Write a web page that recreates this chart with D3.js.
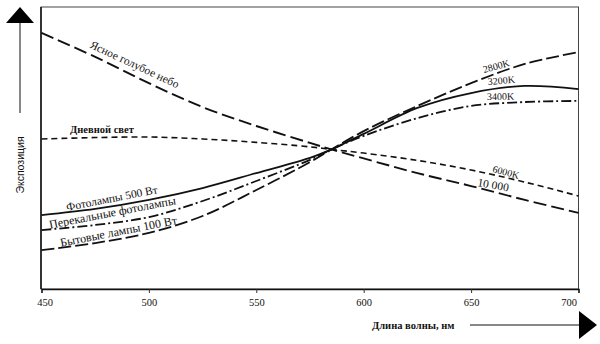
<!DOCTYPE html>
<html><head><meta charset="utf-8">
<script src="https://cdn.jsdelivr.net/npm/d3@7"></script>
<style>
html,body{margin:0;padding:0;background:#fff;}
svg{display:block;}
text{font-family:"Liberation Serif","DejaVu Serif",serif;fill:#111;}
</style></head>
<body>
<svg id="chart" width="600" height="344"></svg>
<script>
// Wavelengths (nm)
const wavelengths = [450, 475, 500, 525, 550, 575, 585, 600, 625, 650, 675, 700];
// Relative exposure values (arbitrary units 0..100)
const clearSky     = [90.8, 82.3, 73.0, 64.5, 57.8, 51.8, 49.5, 46.3, 41.1, 36.5, 31.6, 27.0];
const daylight     = [53.2, 53.7, 53.9, 53.2, 52.0, 50.4, 49.5, 48.2, 45.6, 42.2, 37.9, 33.0];
const photo500     = [26.2, 28.4, 31.6, 35.8, 41.1, 46.5, 49.5, 55.0, 64.2, 69.5, 72.0, 70.9];
const overrunPhoto = [20.9, 22.7, 25.5, 31.2, 38.3, 45.8, 49.5, 54.3, 60.6, 64.9, 66.3, 66.7];
const household100 = [13.8, 16.3, 19.9, 25.9, 35.1, 45.0, 49.5, 56.0, 64.9, 73.0, 79.8, 84.0];
const xTicks = [450, 500, 550, 600, 650, 700];

const svg = d3.select("#chart");
const x = d3.scaleLinear().domain([450, 700]).range([41.5, 578.5]);
const y = d3.scaleLinear().domain([0, 100]).range([289, 7]);

// frame
svg.append("rect").attr("x", 41).attr("y", 7).attr("width", 537.5).attr("height", 282)
  .attr("fill", "none").attr("stroke", "#444").attr("stroke-width", 1);
svg.append("line").attr("x1", 41).attr("x2", 41).attr("y1", 7).attr("y2", 289)
  .attr("stroke", "#111").attr("stroke-width", 1.5);

// x axis
const xAxis = d3.axisBottom(x).tickValues(xTicks).tickSize(4).tickPadding(6).tickFormat(d3.format("d"));
const gx = svg.append("g").attr("transform", "translate(0,289)").call(xAxis);
gx.select(".domain").attr("stroke", "#111").attr("stroke-width", 1.6);
gx.selectAll(".tick line").attr("stroke", "#333").attr("stroke-width", 1)
  .attr("opacity", d => (d === 450 || d === 700) ? 0 : 1);
gx.selectAll(".tick text").attr("font-family", "Liberation Serif, serif").attr("font-size", 10.5).attr("fill", "#222")
  .attr("dx", d => d === 450 ? 3 : d === 700 ? -10 : 0);

// series
const series = [
  { name: "clearSky", values: clearSky, dash: "13,5", width: 1.9 },
  { name: "daylight", values: daylight, dash: "6,4", width: 1.6 },
  { name: "photo500", values: photo500, dash: null, width: 1.8 },
  { name: "overrunPhoto", values: overrunPhoto, dash: "10,3,2,3", width: 1.8 },
  { name: "household100", values: household100, dash: "13,4", width: 1.8 }
];
const line = d3.line().x((d, i) => x(wavelengths[i])).y(d => y(d)).curve(d3.curveCatmullRom.alpha(0.5));
svg.append("g").selectAll("path").data(series).join("path")
  .attr("d", s => line(s.values))
  .attr("fill", "none").attr("stroke", "#111")
  .attr("stroke-width", s => s.width)
  .attr("stroke-dasharray", s => s.dash);

// curve labels (positions in data units)
const labels = [
  { t: "Ясное голубое небо", nm: 492.6, v: 78.4, a: 25, anchor: "middle", size: 11.5, w: "normal" },
  { t: "Дневной свет", nm: 463.3, v: 55.3, a: 0, anchor: "start", size: 10.5, w: "bold" },
  { t: "Фотолампы 500 Вт", nm: 461.9, v: 27.7, a: -11, anchor: "start", size: 11.5, w: "normal" },
  { t: "Перекальные фотолампы", nm: 454.0, v: 21.4, a: -11, anchor: "start", size: 12, w: "normal" },
  { t: "Бытовые лампы 100 Вт", nm: 459.1, v: 15.0, a: -11, anchor: "start", size: 12, w: "normal" },
  { t: "2800K", nm: 656.0, v: 76.6, a: -15, anchor: "start", size: 10, w: "normal" },
  { t: "3200K", nm: 657.9, v: 72.3, a: -5, anchor: "start", size: 10, w: "normal" },
  { t: "3400K", nm: 657.4, v: 67.0, a: -1, anchor: "start", size: 10, w: "normal" },
  { t: "6000K", nm: 659.7, v: 41.5, a: 15, anchor: "start", size: 10, w: "normal" },
  { t: "10 000", nm: 652.7, v: 36.5, a: 10, anchor: "start", size: 11.5, w: "normal" }
];
svg.append("g").selectAll("text").data(labels).join("text")
  .attr("transform", d => `translate(${x(d.nm)},${y(d.v)}) rotate(${d.a})`)
  .attr("text-anchor", d => d.anchor)
  .attr("font-size", d => d.size)
  .attr("font-weight", d => d.w)
  .text(d => d.t);

// y arrow
svg.append("line").attr("x1", 20).attr("x2", 20).attr("y1", 22).attr("y2", 113)
  .attr("stroke", "#111").attr("stroke-width", 1);
svg.append("path").attr("d", "M20,7 L6,23 L34,23 Z").attr("fill", "#000");
svg.append("text").attr("transform", "translate(24,165) rotate(-90)")
  .attr("text-anchor", "middle").attr("font-size", 10.5)
  .style("font-family", "Liberation Sans, Arial, sans-serif").text("Экспозиция");

// x arrow
svg.append("text").attr("x", 372).attr("y", 329).attr("font-size", 10.5).attr("font-weight", "bold")
  .text("Длина волны, нм");
svg.append("line").attr("x1", 470).attr("x2", 582).attr("y1", 325).attr("y2", 325)
  .attr("stroke", "#111").attr("stroke-width", 1);
svg.append("path").attr("d", "M597,325 L579,311 L579,339 Z").attr("fill", "#000");
</script>
</body></html>
